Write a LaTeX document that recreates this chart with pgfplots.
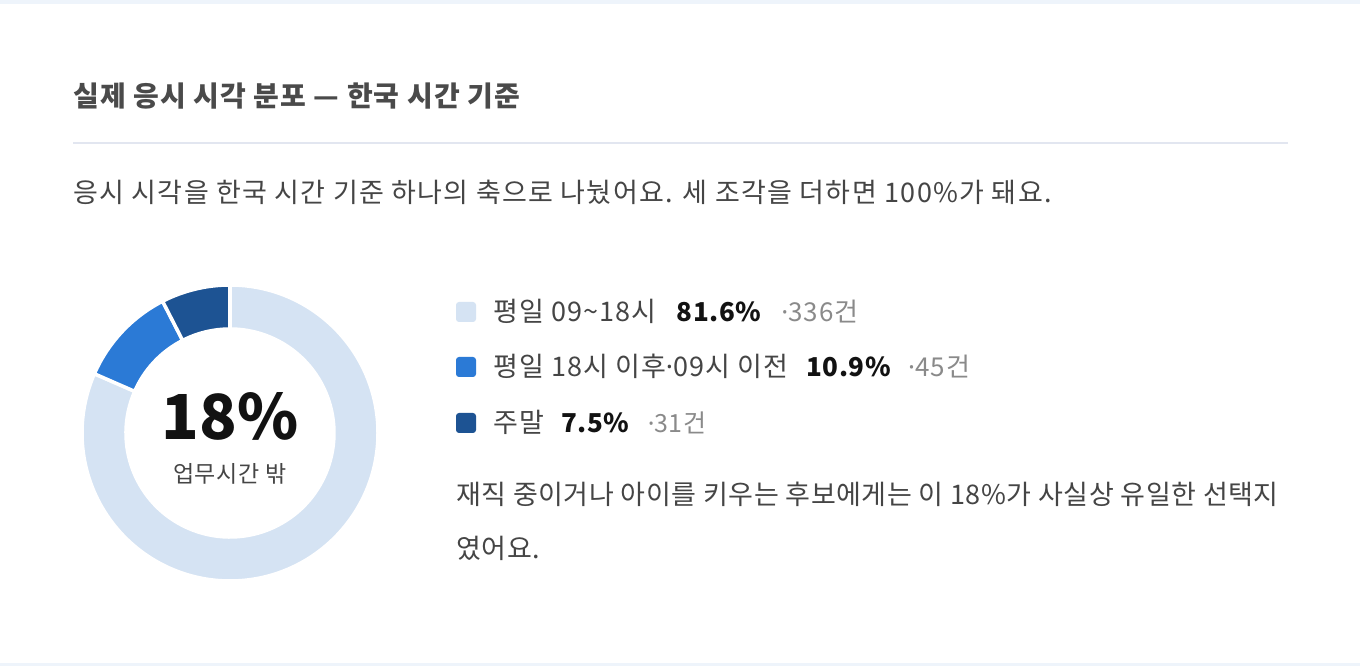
\documentclass[border=0pt]{standalone}
\usepackage{pgfplots}
\pgfplotsset{compat=1.18}
\usepackage{fontspec}
\setmainfont{Noto Sans CJK KR}
\newfontfamily\latinfont{Noto Sans}

\definecolor{cLight}{HTML}{D5E3F3}
\definecolor{cMid}{HTML}{2B7AD6}
\definecolor{cDark}{HTML}{1D5393}
\definecolor{cTitle}{HTML}{4A4A4A}
\definecolor{cText}{HTML}{454545}
\definecolor{cCount}{HTML}{8A8A8A}
\definecolor{cRule}{HTML}{E2E6F0}
\definecolor{cBand}{HTML}{EEF4FB}

% size in bp, letter spacing
\newcommand\fs[2]{\fontsize{#1bp}{#1bp}\selectfont\addfontfeatures{LetterSpace=#2}}
\newcommand\md{{\latinfont ·}}

% counts per slice: weekday 09-18, weekday off-hours, weekend
\pgfmathsetmacro\nA{336}
\pgfmathsetmacro\nB{45}
\pgfmathsetmacro\nC{31}
\pgfmathsetmacro\total{\nA+\nB+\nC}
\pgfmathsetmacro\aA{90}
\pgfmathsetmacro\aB{\aA-360*(\nA/\total)}
\pgfmathsetmacro\aC{\aB-360*(\nB/\total)}
\pgfmathsetmacro\aD{\aC-360*(\nC/\total)}

% annular sector, centre (230,233) in page units
\newcommand\slice[3]{%
  \fill[#3, draw=white, line width=3.5bp]
    ([shift={(#1:148bp)}]axis cs:230,233) arc[start angle=#1, end angle=#2, radius=148bp]
    -- ([shift={(#2:104bp)}]axis cs:230,233) arc[start angle=#2, end angle=#1, radius=104bp]
    -- cycle;}

\begin{document}
\begin{tikzpicture}
\begin{axis}[
  x=1bp, y=1bp,
  xmin=0, xmax=1360, ymin=0, ymax=666,
  hide axis, clip=false,
]
\fill[white] (axis cs:0,0) rectangle (axis cs:1360,666);
\fill[cBand] (axis cs:0,662) rectangle (axis cs:1360,666);
\fill[cBand] (axis cs:0,0) rectangle (axis cs:1360,3);

% header
\node[anchor=base west, inner sep=0, text=cTitle, font=\bfseries\fs{28}{4}]
  at (axis cs:73,559) {실제 응시 시각 분포 — 한국 시간 기준};
\draw[cRule, line width=1.5bp] (axis cs:73,523) -- (axis cs:1288,523);
\node[anchor=base west, inner sep=0, text=cText, font=\fs{27}{5}]
  at (axis cs:73,463) {응시 시각을 한국 시간 기준 하나의 축으로 나눴어요. 세 조각을 더하면 100\%가 돼요.};

% donut
\slice{\aA}{\aB}{cLight}
\slice{\aB}{\aC}{cMid}
\slice{\aC}{\aD}{cDark}
\node[anchor=base, inner sep=0, text=black!93, font=\bfseries\fs{62}{0}]
  at (axis cs:230,226) {18\%};
\node[anchor=base, inner sep=0, text=cText, font=\fs{23}{3}]
  at (axis cs:230,183) {업무시간 밖};

% legend
\fill[cLight, rounded corners=3bp] (axis cs:456,344) rectangle (axis cs:476,364);
\fill[cMid, rounded corners=3bp] (axis cs:456,289) rectangle (axis cs:476,309);
\fill[cDark, rounded corners=3bp] (axis cs:456,233) rectangle (axis cs:476,253);

\node[anchor=base west, inner sep=0, text=cText, font=\fs{27}{4}] (l1)
  at (axis cs:493,344) {평일 09\textasciitilde18시};
\node[anchor=base west, inner sep=0, text=black!93, font=\bfseries\fs{26}{2}] (p1)
  at ([xshift=20bp]l1.base east) {81.6\%};
\node[anchor=base west, inner sep=0, text=cCount, font=\fs{26}{4}]
  at ([xshift=20bp]p1.base east) {\md336건};

\node[anchor=base west, inner sep=0, text=cText, font=\fs{27}{4}] (l2)
  at (axis cs:493,289) {평일 18시 이후\md09시 이전};
\node[anchor=base west, inner sep=0, text=black!93, font=\bfseries\fs{26}{2}] (p2)
  at ([xshift=18bp]l2.base east) {10.9\%};
\node[anchor=base west, inner sep=0, text=cCount, font=\fs{26}{4}]
  at ([xshift=17bp]p2.base east) {\md45건};

\node[anchor=base west, inner sep=0, text=cText, font=\fs{27}{4}] (l3)
  at (axis cs:493,233) {주말};
\node[anchor=base west, inner sep=0, text=black!93, font=\bfseries\fs{26}{2}] (p3)
  at ([xshift=17bp]l3.base east) {7.5\%};
\node[anchor=base west, inner sep=0, text=cCount, font=\fs{25}{2}]
  at ([xshift=18bp]p3.base east) {\md31건};

% note
\node[anchor=base west, inner sep=0, text=cText, font=\fs{27}{2.2}]
  at (axis cs:456,161) {재직 중이거나 아이를 키우는 후보에게는 이 18\%가 사실상 유일한 선택지};
\node[anchor=base west, inner sep=0, text=cText, font=\fs{27}{2.2}]
  at (axis cs:456,107) {였어요.};
\end{axis}
\end{tikzpicture}
\end{document}
